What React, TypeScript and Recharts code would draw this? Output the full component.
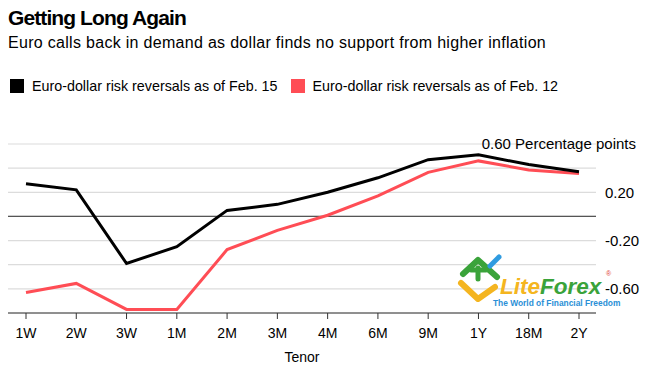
import React from 'react';
import { LineChart, Line, XAxis, YAxis, CartesianGrid, ReferenceLine } from 'recharts';

const tenors = ['1W', '2W', '3W', '1M', '2M', '3M', '4M', '6M', '9M', '1Y', '18M', '2Y'];
const feb15 = [0.27, 0.22, -0.39, -0.25, 0.05, 0.10, 0.20, 0.32, 0.47, 0.51, 0.43, 0.37];
const feb12 = [-0.63, -0.555, -0.77, -0.77, -0.275, -0.115, 0.01, 0.17, 0.365, 0.46, 0.385, 0.355];
const yTicks = [-0.8, -0.6, -0.4, -0.2, 0, 0.2, 0.4, 0.6];
const labeledTicks = [0.6, 0.2, -0.2, -0.6];
const seriesNames = ['Euro-dollar risk reversals as of Feb. 15', 'Euro-dollar risk reversals as of Feb. 12'];
const seriesColors = ['#000000', '#ff4d55'];

const data = tenors.map((t, i) => ({ tenor: t, feb15: feb15[i], feb12: feb12[i] }));

const FONT = '"Liberation Sans", Arial, Helvetica, sans-serif';

const YTick = (props: any) => {
  const { x, y, payload } = props;
  const v = payload.value;
  if (!labeledTicks.some((t) => Math.abs(t - v) < 1e-6)) return null;
  const isTop = Math.abs(v - 0.6) < 1e-6;
  const label = isTop ? `${v.toFixed(2)} Percentage points` : v.toFixed(2);
  return (
    <text
      x={isTop ? x + 38 : x + 7}
      y={y}
      dy="0.36em"
      textAnchor={isTop ? 'end' : 'start'}
      fontSize={15}
      fontFamily={FONT}
      fill="#000"
    >
      {label}
    </text>
  );
};

const Logo = () => (
  <svg width={652} height={376} style={{ position: 'absolute', left: 0, top: 0, pointerEvents: 'none' }}>
    <polyline points="461,283 478,299 495,287" fill="none" stroke="#f4b520" strokeWidth={6} strokeLinecap="round" strokeLinejoin="round" />
    <polyline points="463,274 478,260 497,277" fill="none" stroke="#3aa33a" strokeWidth={6} strokeLinecap="round" strokeLinejoin="round" />
    <polyline points="471,270 486,270" fill="none" stroke="#3aa33a" strokeWidth={5} strokeLinecap="round" />
    <polyline points="478,268 478,279" fill="none" stroke="#3aa33a" strokeWidth={5} strokeLinecap="round" />
    <line x1={490} y1={266} x2={499} y2={257} stroke="#2f9be0" strokeWidth={5} strokeLinecap="round" />
    <text x={500} y={294} fontSize={22.5} fontWeight="bold" fontStyle="italic" fontFamily={FONT}>
      <tspan fill="#f4b520">Lite</tspan>
      <tspan fill="#3aa33a">Forex</tspan>
    </text>
    <text x={606} y={276} fontSize={7} fill="#e0403a" fontFamily={FONT}>®</text>
    <text x={493} y={306} fontSize={8.4} fontWeight="bold" fill="#2a8fd6" fontFamily={FONT}>
      The World of Financial Freedom
    </text>
  </svg>
);

export default function App() {
  return (
    <div style={{ position: 'absolute', left: 0, top: 0, width: 652, height: 376, background: '#fff', fontFamily: FONT, overflow: 'hidden' }}>
      <div style={{ position: 'absolute', left: 8, top: 4, fontSize: 21, fontWeight: 'bold', letterSpacing: -0.9, lineHeight: '28px', color: '#000' }}>
        Getting Long Again
      </div>
      <div style={{ position: 'absolute', left: 8, top: 33, fontSize: 16, letterSpacing: 0.3, lineHeight: '20px', color: '#000' }}>
        Euro calls back in demand as dollar finds no support from higher inflation
      </div>
      <div style={{ position: 'absolute', left: 10, top: 77, display: 'flex', alignItems: 'center', fontSize: 14.3, lineHeight: '18px' }}>
        {seriesNames.map((n, i) => (
          <div key={n} style={{ display: 'flex', alignItems: 'center', marginRight: 13 }}>
            <div style={{ width: 14, height: 14, background: seriesColors[i], marginRight: 8 }} />
            <span>{n}</span>
          </div>
        ))}
      </div>
      <div style={{ position: 'absolute', left: 0, top: 0 }}>
        <LineChart width={652} height={376} data={data} margin={{ top: 144, right: 0, left: 8, bottom: 0 }}>
          <CartesianGrid vertical={false} stroke="#dcdcdc" strokeWidth={1.2} />
          <XAxis
            dataKey="tenor"
            padding={{ left: 18, right: 17 }}
            tickSize={6}
            tickMargin={9}
            height={63}
            axisLine={{ stroke: '#333' }}
            tickLine={{ stroke: '#333' }}
            tick={{ fill: '#000', fontSize: 14, fontFamily: FONT }}
            interval={0}
            label={{ value: 'Tenor', position: 'insideBottom', offset: 14, fill: '#000', fontSize: 14, fontFamily: FONT }}
          />
          <YAxis
            orientation="right"
            width={56}
            domain={[-0.8, 0.6]}
            ticks={yTicks}
            axisLine={false}
            tickLine={false}
            tickSize={0}
            tick={<YTick />}
            interval={0}
          />
          <ReferenceLine y={0} stroke="#555" strokeWidth={1.2} />
          <Line type="linear" dataKey="feb12" stroke={seriesColors[1]} strokeWidth={3} dot={false} isAnimationActive={false} />
          <Line type="linear" dataKey="feb15" stroke={seriesColors[0]} strokeWidth={3} dot={false} isAnimationActive={false} />
        </LineChart>
      </div>
      <Logo />
    </div>
  );
}
